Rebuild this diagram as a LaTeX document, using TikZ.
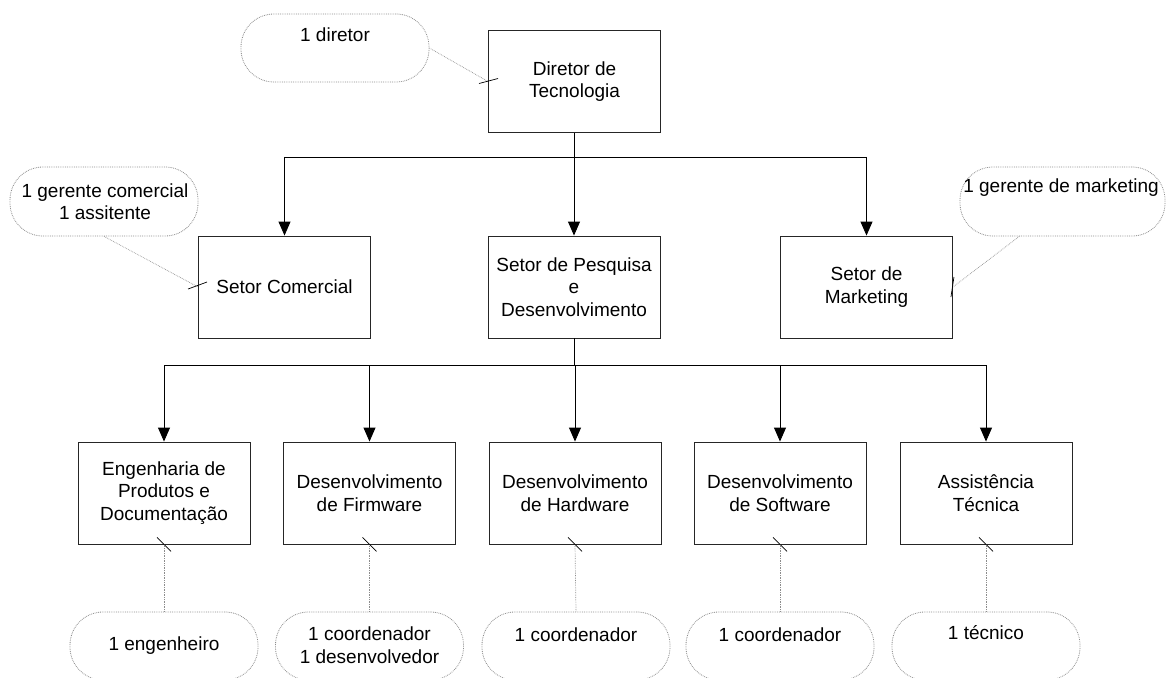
\documentclass[tikz,border=0pt]{standalone}
\usepackage{fontspec}
\setmainfont{Liberation Sans}
\usetikzlibrary{arrows.meta,calc}

\begin{document}
\begin{tikzpicture}[x=1pt,y=-1pt,
  txt/.style={font=\fontsize{19}{22.5}\selectfont, align=center, inner sep=0pt},
  unit/.style={txt, draw=black!85, line width=0.9pt, minimum width=172pt, minimum height=102pt},
  balloon/.style={draw=black!45, densely dotted, line width=0.8pt, rounded corners=33pt,
                  minimum width=188pt, minimum height=68pt, inner sep=0pt},
  note/.style={draw=black!45, densely dotted, line width=0.7pt},
  glue/.style={draw=black, line width=0.7pt},
  tree/.style={draw=black, line width=0.9pt},
  arr/.style={tree, -{Triangle[length=14pt,width=12pt]}}]

\path[use as bounding box, clip] (0,0) rectangle (1166,677);

% organisational units
\node[unit] (dir) at (574.5,81.5) {Diretor de\\Tecnologia};
\node[unit] (com) at (284.5,287) {Setor Comercial};
\node[unit] (ped) at (574,287) {Setor de Pesquisa\\e\\Desenvolvimento};
\node[unit] (mkt) at (866.5,287) {Setor de\\Marketing};
\node[unit] (eng) at (164,493) {Engenharia de\\Produtos e\\Documentação};
\node[unit] (fir) at (369.5,493) {Desenvolvimento\\de Firmware};
\node[unit] (hw)  at (575,493) {Desenvolvimento\\de Hardware};
\node[unit] (sw)  at (780,493) {Desenvolvimento\\de Software};
\node[unit] (ast) at (986,493) {Assistência\\Técnica};

% hierarchy connectors: trunk, bar, then one arrow per unit
\coordinate (j1) at ($(dir.south)+(0,24)$);
\draw[tree] (dir.south) -- (j1);
\draw[tree] (com.north |- j1) -- (mkt.north |- j1);
\foreach \t in {com,ped,mkt}
  \draw[arr] (\t.north |- j1) -- (\t.north);

\coordinate (j2) at ($(ped.south)+(0,27)$);
\draw[tree] (ped.south) -- (j2);
\draw[tree] (eng.north |- j2) -- (ast.north |- j2);
\foreach \t in {eng,fir,hw,sw,ast}
  \draw[arr] (\t.north |- j2) -- (\t.north);

% staff balloons
\node[balloon] (bdir) at (335,48) {};
\node[balloon, minimum height=69pt] (bcom) at (104,201.5) {};
\node[balloon, minimum height=69pt, minimum width=205pt] (bmkt) at (1062.5,201.5) {};
\node[balloon] (beng) at (164,646) {};
\node[balloon] (bfir) at (369.5,646) {};
\node[balloon] (bhw)  at (576,646) {};
\node[balloon] (bsw)  at (780,646) {};
\node[balloon] (bast) at (986,646) {};

\node[txt] (tdir) at (335,35) {1 diretor};
\node[txt] (tcom) at (105,201.5) {1 gerente comercial\\1 assitente};
\node[txt] (tmkt) at (1061,188) {1 gerente de marketing};
\node[txt] (teng) at (164,646) {1 engenheiro};
\node[txt] (tfir) at (369.5,645) {1 coordenador\\1 desenvolvedor};
\node[txt] (thw)  at (576,635) {1 coordenador};
\node[txt] (tsw)  at (780,635) {1 coordenador};
\node[txt] (tast) at (986,633) {1 técnico};

% balloon leaders with glue marks
\draw[note] (bdir.east) -- (dir.west);
\draw[glue] (dir.west) ++(-9,2) -- ++(19,-5);
\draw[note] (bcom.south) -- (com.west);
\draw[glue] (com.west) ++(-10,2) -- ++(19,-7);
\draw[note] ($(bmkt.south west)!0.29!(bmkt.south east)$) -- (mkt.east);
\draw[glue] (mkt.east) ++(1,-10) -- ++(-3,20);
\foreach \u/\b in {eng/beng,fir/bfir,hw/bhw,sw/bsw,ast/bast}{
  \draw[note] (\u.south) -- (\b.north);
  \draw[glue] (\u.south) ++(-7,-7) -- ++(14,14);
}
\end{tikzpicture}
\end{document}
